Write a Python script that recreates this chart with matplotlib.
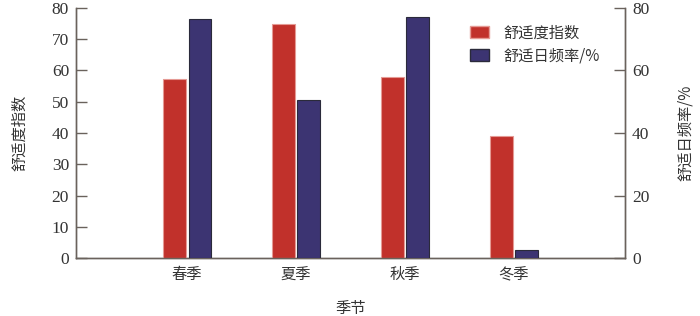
import numpy as np
import matplotlib
matplotlib.use("Agg")
import matplotlib.pyplot as plt
from matplotlib.patches import Patch

CJK = ["Noto Sans CJK SC", "DejaVu Sans"]
plt.rcParams["font.family"] = CJK

seasons = ["春季", "夏季", "秋季", "冬季"]
comfort_index = [57.3, 74.8, 58.0, 39.0]      # 舒适度指数 (left axis)
comfort_freq = [76.6, 50.7, 77.2, 2.7]        # 舒适日频率/% (right axis)

RED, BLUE = "#c1312b", "#3c3472"
SPINE = "#6a625c"

fig = plt.figure(figsize=(7.0, 3.16), dpi=100)
ax = fig.add_axes([0.1086, 0.1835, 0.7843, 0.7912])
ax2 = ax.twinx()

x = np.arange(len(seasons)); w = 0.21; off = 0.118
ax.bar(x - off, comfort_index, w, color=RED, edgecolor="#e59a94", lw=0.8, zorder=3)
ax2.bar(x + off, comfort_freq, w, color=BLUE, edgecolor="#2a2a3a", lw=0.8, zorder=3)

ax.set_xlim(-1.02, 4.02)
ax.set_ylim(0, 80); ax2.set_ylim(0, 80)
ax.set_yticks(range(0, 81, 10)); ax2.set_yticks(range(0, 81, 20))
ax.set_xticks(x); ax.set_xticklabels(seasons, fontsize=11, color="#333333")

for a in (ax, ax2):
    a.spines["top"].set_visible(False)
    for s in ("left", "right", "bottom"):
        a.spines[s].set_color(SPINE); a.spines[s].set_linewidth(1.0)
    a.tick_params(axis="y", direction="in", length=8, width=1.0, color=SPINE,
                  labelsize=12.5, labelcolor="#333333", pad=5)
    for t in a.get_yticklabels():
        t.set_fontfamily("Liberation Serif")
ax.tick_params(axis="x", length=0, pad=6)

ax.set_ylabel("舒适度指数", fontsize=11, color="#333333", labelpad=17)
ax2.set_ylabel("舒适日频率/%", fontsize=11, color="#333333", labelpad=20, rotation=90)
ax.set_xlabel("季节", fontsize=11, color="#333333", labelpad=12)

handles = [Patch(facecolor=RED, edgecolor="#e59a94"), Patch(facecolor=BLUE, edgecolor="#2a2a3a")]
ax2.legend(handles, ["舒适度指数", "舒适日频率/%"], loc="upper right", bbox_to_anchor=(0.98, 0.99),
           frameon=False, fontsize=11, handlelength=1.2, handleheight=0.85,
           labelspacing=0.4, handletextpad=1.0, labelcolor="#333333")

fig.savefig("out.png")
